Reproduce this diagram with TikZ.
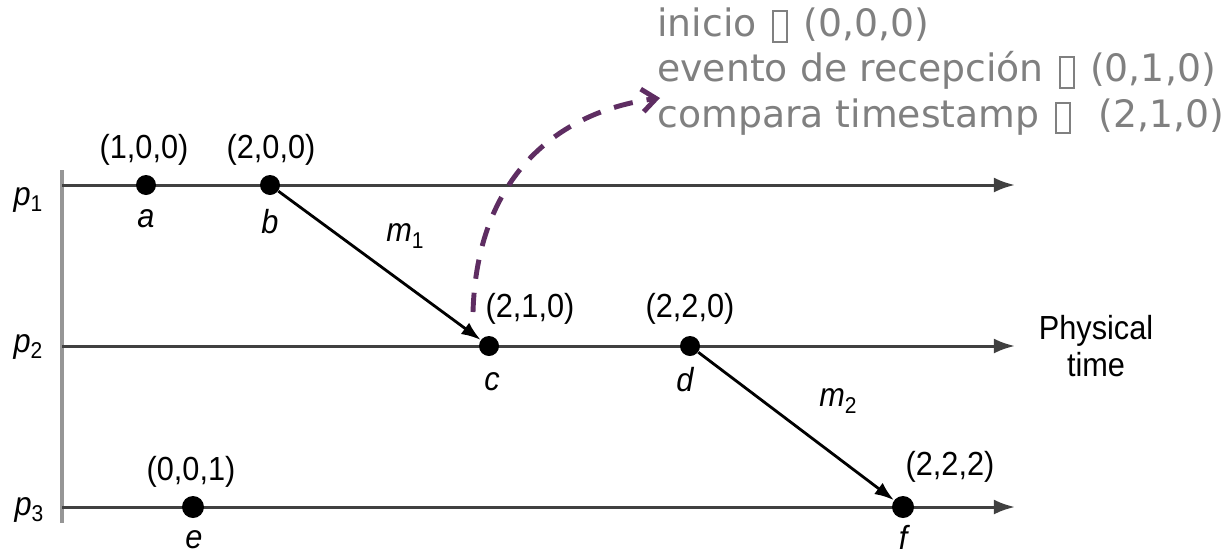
\documentclass[tikz,border=0pt]{standalone}
\usepackage{fontspec}
\usepackage{tikz}
\usetikzlibrary{arrows.meta, positioning, calc}
\newfontfamily\narrowfont[FakeStretch=0.92]{Liberation Sans}
\newfontfamily\notefont{DejaVu Sans}
\definecolor{mydark}{RGB}{64,64,64}
\definecolor{mygray}{RGB}{150,150,150}
\definecolor{notegray}{RGB}{128,128,128}
\definecolor{mypurple}{RGB}{94,45,98}
\newcommand{\evsub}[2]{\textit{#1}\raisebox{-0.35ex}{\upshape\fontsize{13}{13}\selectfont #2}}
\newcommand{\tofubox}{\hspace{0.09em}\raisebox{-0.13em}{\setlength{\fboxsep}{0pt}\setlength{\fboxrule}{0.055em}\fbox{\rule{0pt}{0.76em}\hspace{0.31em}}}\hspace{0.09em}}
\tikzset{
  event/.style={circle, fill=black, inner sep=0pt, minimum size=0.4cm},
  bigevent/.style={circle, fill=black, inner sep=0pt, minimum size=0.44cm},
  stamp/.style={font=\narrowfont\fontsize{19}{19}\selectfont, inner sep=0pt},
  evlabel/.style={font=\narrowfont\fontsize{19}{19}\selectfont\itshape, inner sep=0pt},
  timeline/.style={-{Latex[length=12pt,width=8.5pt]}, line width=1.7pt, color=mydark},
  msgarrow/.style={-{Latex[length=11pt,width=8pt]}, line width=1.6pt, color=black},
  notearrow/.style={-{Straight Barb[length=8pt,width=13pt]}, line width=2.8pt,
    color=mypurple, dash pattern=on 11pt off 8pt}
}
\begin{document}
\begin{tikzpicture}[x=0.02cm, y=-0.02cm]
  \useasboundingbox (0,0) rectangle (1222,555);

  % Process axis
  \draw[line width=2.8pt, color=mygray] (62,170) -- (62,523);

  % Process lines
  \coordinate (s1) at (62,185);  \coordinate (t1) at (1015,185);
  \coordinate (s2) at (62,346);  \coordinate (t2) at (1015,346);
  \coordinate (s3) at (62,507);  \coordinate (t3) at (1015,507);
  \draw[timeline] (s1) -- (t1);
  \draw[timeline] (s2) -- (t2);
  \draw[timeline] (s3) -- (t3);
  \node[evlabel] (p1) at (28,200) {\evsub{p}{1}};
  \node[evlabel] (p2) at (28,347) {\evsub{p}{2}};
  \node[evlabel] (p3) at (29,510) {\evsub{p}{3}};
  \node[stamp, align=center, font=\narrowfont\fontsize{19}{21}\selectfont] (phys) at (1096,346) {Physical\\time};

  % Events
  \node[event] (a) at (146,185) {};
  \node[event] (b) at (270,185) {};
  \node[event] (c) at (489,346) {};
  \node[event] (d) at (690,346) {};
  \node[bigevent] (e) at (193,507) {};
  \node[bigevent] (f) at (903,507) {};

  % Vector timestamps
  \node[stamp] (va) at (144,150) {(1,0,0)};
  \node[stamp] (vb) at (271,150) {(2,0,0)};
  \node[stamp] (vc) at (530,309) {(2,1,0)};
  \node[stamp] (vd) at (690,309) {(2,2,0)};
  \node[stamp] (ve) at (191,472) {(0,0,1)};
  \node[stamp] (vf) at (950,467) {(2,2,2)};

  % Event names
  \node[evlabel] (la) at (146,219) {a};
  \node[evlabel] (lb) at (270,222) {b};
  \node[evlabel] (lc) at (492,382) {c};
  \node[evlabel] (ld) at (685,380) {d};
  \node[evlabel] (le) at (194,540) {e};
  \node[evlabel] (lf) at (903,537) {f};

  % Messages
  \draw[msgarrow] (b) -- (c);
  \draw[msgarrow] (d) -- (f);
  \node[evlabel] (m1) at (405,236) {\evsub{m}{1}};
  \node[evlabel] (m2) at (838,401) {\evsub{m}{2}};

  % Note
  \node[font=\notefont\fontsize{21.5}{26}\selectfont, color=notegray, align=left,
    anchor=north west, inner sep=0pt] (note) at (657,7)
    {inicio\ \tofubox\ (0,0,0)\\evento de recepción\ \tofubox\ (0,1,0)\\compara timestamp\ \tofubox\ \ (2,1,0)};
  \coordinate (nstart) at (473,312);
  \coordinate (nend) at (660,98);
  \draw[notearrow] (nstart) .. controls (477,178) and (556,112) .. (nend);
\end{tikzpicture}
\end{document}
